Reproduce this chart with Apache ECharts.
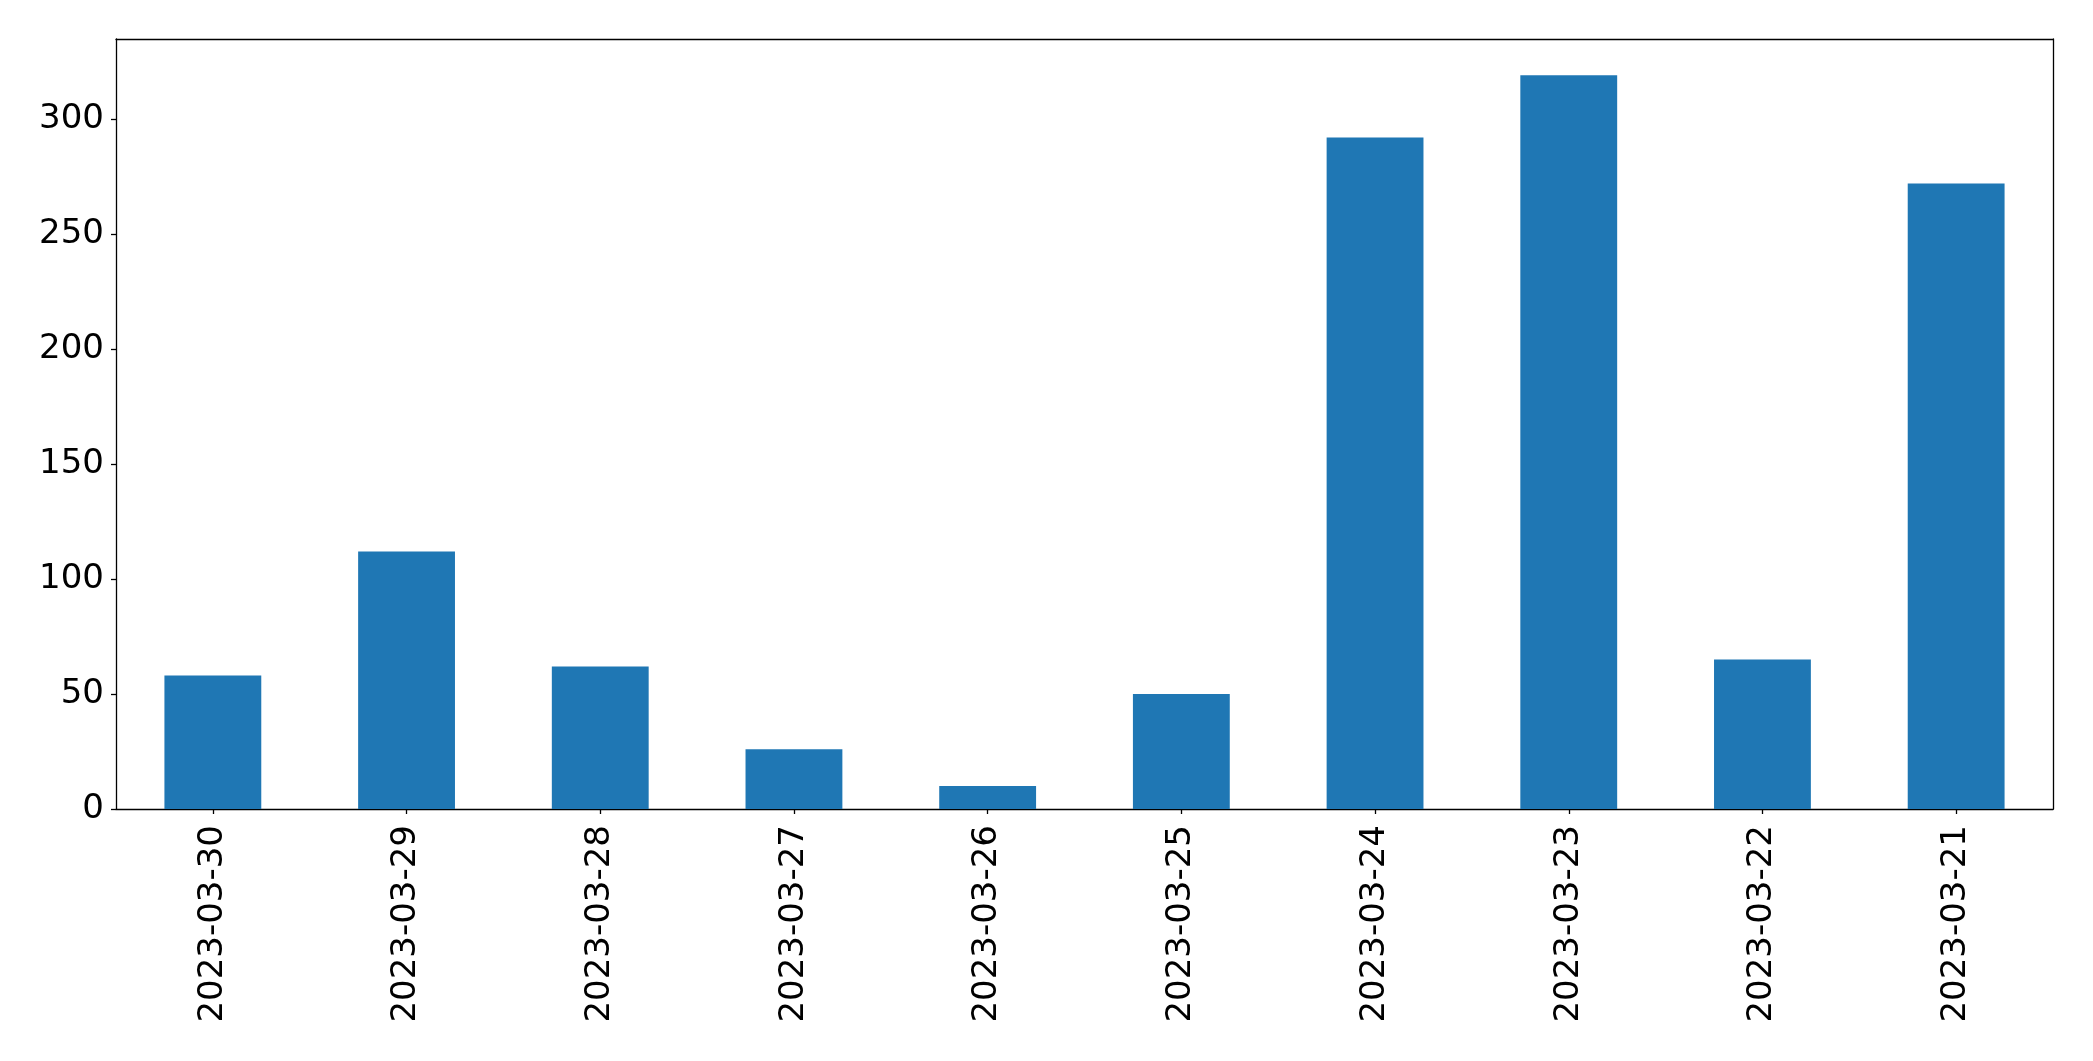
<!DOCTYPE html>
<html>
<head>
<meta charset="utf-8">
<script src="https://cdn.jsdelivr.net/npm/echarts@6/dist/echarts.min.js"></script>
<style>
html,body{margin:0;padding:0;background:#fff;}
#chart{width:2093px;height:1061px;}
</style>
</head>
<body>
<div id="chart"></div>
<script>
const categories = ["2023-03-30","2023-03-29","2023-03-28","2023-03-27","2023-03-26","2023-03-25","2023-03-24","2023-03-23","2023-03-22","2023-03-21"];
const values = [58, 112, 62, 26, 10, 50, 292, 319, 65, 272];
const yTicks = [0, 50, 100, 150, 200, 250, 300];

const FONT = "DejaVu Sans";
const chart = echarts.init(document.getElementById('chart'), null, {renderer: 'canvas'});
const lineStyle = {color: '#000', width: 1.3};
chart.setOption({
  animation: false,
  backgroundColor: '#fff',
  grid: {left: 116, right: 40, top: 39, bottom: 252, containLabel: false},
  xAxis: [{
    type: 'category',
    data: categories,
    position: 'bottom',
    axisLine: {show: true, onZero: false, lineStyle: lineStyle},
    axisTick: {show: true, alignWithLabel: true, length: 5, lineStyle: lineStyle},
    axisLabel: {rotate: 90, margin: 16, fontFamily: FONT, fontSize: 34, color: '#000', interval: 0},
    splitLine: {show: false}
  }, {
    type: 'category',
    data: categories,
    position: 'top',
    axisLine: {show: true, onZero: false, lineStyle: lineStyle},
    axisTick: {show: false},
    axisLabel: {show: false},
    splitLine: {show: false}
  }],
  yAxis: [{
    type: 'value',
    min: 0,
    max: 334.8,
    interval: 50,
    position: 'left',
    axisLine: {show: true, onZero: false, lineStyle: lineStyle},
    axisTick: {show: true, length: 5, lineStyle: lineStyle},
    axisLabel: {margin: 12, fontFamily: FONT, fontSize: 34, color: '#000', showMaxLabel: false,
      formatter: v => yTicks.includes(v) ? String(v) : ''},
    splitLine: {show: false}
  }, {
    type: 'value',
    min: 0,
    max: 334.8,
    position: 'right',
    axisLine: {show: true, onZero: false, lineStyle: lineStyle},
    axisTick: {show: false},
    axisLabel: {show: false},
    splitLine: {show: false}
  }],
  series: [{
    type: 'bar',
    data: values,
    barWidth: '50%',
    itemStyle: {color: '#1f77b4'},
    xAxisIndex: 0,
    yAxisIndex: 0
  }]
});
</script>
</body>
</html>
